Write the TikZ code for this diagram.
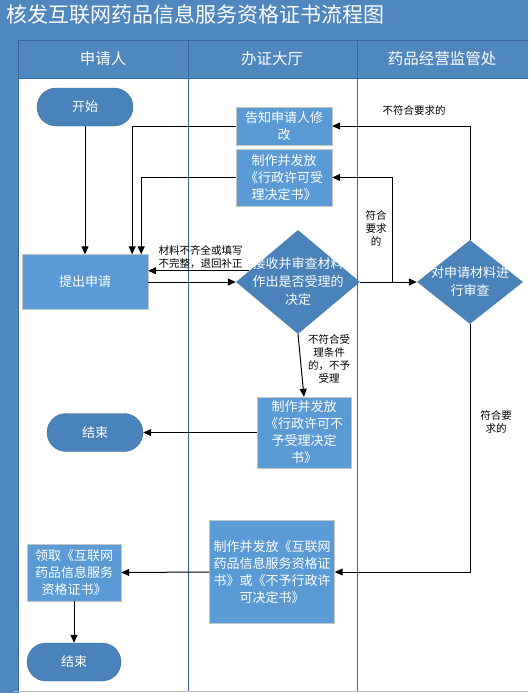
\documentclass[tikz,border=0pt]{standalone}
\usepackage{fontspec}
\newfontfamily\cjk{Noto Sans CJK SC}
\usetikzlibrary{shapes.geometric,arrows.meta}
\definecolor{lanebg}{RGB}{79,135,191}
\definecolor{laneline}{RGB}{58,102,153}
\definecolor{pill}{RGB}{73,131,186}
\definecolor{boxfill}{RGB}{91,155,213}
\begin{document}
\begin{tikzpicture}[x=1pt,y=-1pt,
  term/.style={draw=pill!85!black, fill=pill, rounded corners=19pt, minimum width=96pt, minimum height=38pt, inner sep=0pt, text=white, font=\cjk\fontsize{13pt}{17pt}\selectfont},
  box/.style={draw=gray!45, fill=boxfill, inner sep=0pt, text=white, align=center, font=\cjk\fontsize{13pt}{17pt}\selectfont},
  dia/.style={diamond, fill=pill, inner sep=0pt},
  dtxt/.style={text=white, align=center, font=\cjk\fontsize{13pt}{18pt}\selectfont},
  lbl/.style={align=center, font=\cjk\fontsize{10.5pt}{13pt}\selectfont},
  head/.style={text=white, font=\cjk\fontsize{15.5pt}{18pt}\selectfont},
  arr/.style={-{Triangle[length=8pt,width=7pt]}, line width=1pt}]
\useasboundingbox (0,0) rectangle (528,693);
% lanes
\fill[lanebg] (0,0) rectangle (528,78);
\fill[lanebg] (0,78) rectangle (18,693);
\draw[laneline, line width=0.8pt] (18,40) -- (528,40) (18,78) -- (528,78) (18,40) -- (18,693)
  (188,40) -- (188,691) (357,40) -- (357,691);
\draw[gray!55] (14,691.5) -- (528,691.5);
\node[anchor=west, text=white, font=\cjk\fontsize{21pt}{23pt}\selectfont] (title) at (3,14) {核发互联网药品信息服务资格证书流程图};
\node[head] (h1) at (103,59) {申请人};
\node[head] (h2) at (272,59) {办证大厅};
\node[head] (h3) at (442,59) {药品经营监管处};
% steps
\node[term] (start) at (85,107) {开始};
\node[box, minimum width=126pt, minimum height=55pt] (apply) at (85,282) {提出申请};
\node[box, minimum width=96pt, minimum height=38pt] (notice) at (284,126) {告知申请人修\\改};
\node[box, minimum width=96pt, minimum height=57pt] (issue) at (284,177.5) {制作并发放\\《行政许可受\\理决定书》};
\node[dia, minimum width=124pt, minimum height=104pt] (chk) at (298,282) {};
\node[dtxt] (chkt) at (chk) {接收并审查材料\\作出是否受理的\\决定};
\node[dia, minimum width=106pt, minimum height=84pt] (rev) at (470,282) {};
\node[dtxt] (revt) at (rev) {对申请材料进\\行审查};
\node[box, minimum width=94pt, minimum height=71pt] (refuse) at (304,432.5) {制作并发放\\《行政许可不\\予受理决定\\书》};
\node[term] (end1) at (95,432.5) {结束};
\node[box, minimum width=125pt, minimum height=103pt] (cert) at (272,572) {制作并发放《互联网\\药品信息服务资格证\\书》或《不予行政许\\可决定书》};
\node[box, minimum width=94pt, minimum height=57pt] (recv) at (74,572.5) {领取《互联网\\药品信息服务\\资格证书》};
\node[term, minimum width=94pt] (end2) at (74,662) {结束};
% labels
\node[lbl, anchor=west] (l1) at (155,257) {材料不齐全或填写\\不完整，退回补正};
\node[lbl] (l2) at (376,228) {符合\\要求\\的};
\node[lbl] (l3) at (414,110) {不符合要求的};
\node[lbl] (l4) at (496,422) {符合要\\求的};
\node[lbl] (l5) at (329,359) {不符合受\\理条件\\的，不予\\受理};
% connectors
\draw[arr] (start) -- (apply);
\draw[arr] (notice.west) -| ([xshift=-16pt]apply.north east);
\draw[arr] (issue.west) -| ([xshift=-7pt]apply.north east);
\draw[arr] (apply.east) -- (chk.west);
\draw[arr] (chk.167) -- (chk.167 -| apply.east);
\draw[arr] (chk.east) -- (rev.west);
\draw[arr] ([xshift=32pt]chk.east) |- (issue.east);
\draw[arr] (rev.north) |- (notice.east);
\draw[arr] (rev.south) |- (cert.east);
\draw[arr] (chk.south) -- (refuse.north);
\draw[arr] (refuse.west) -- (end1.east);
\draw[arr] (cert.west) -- (recv.east);
\draw[arr] (recv) -- (end2);
\end{tikzpicture}
\end{document}
